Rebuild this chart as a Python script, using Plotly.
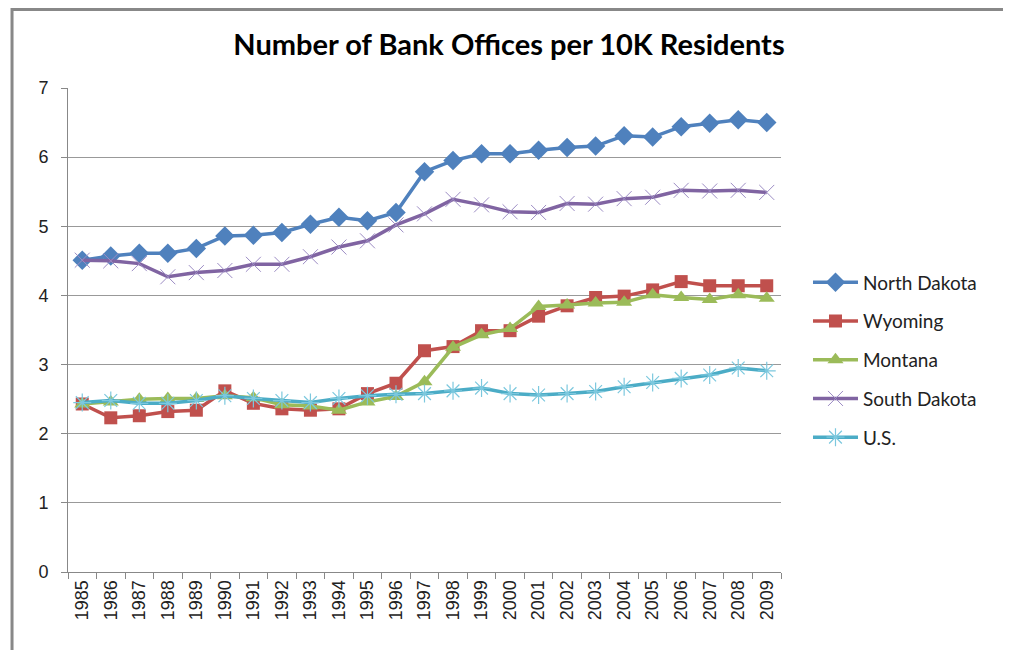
import plotly.graph_objects as go

years = [str(y) for y in range(1985, 2010)]

north_dakota = [4.51, 4.57, 4.61, 4.61, 4.68, 4.86, 4.87, 4.91, 5.03, 5.13, 5.08, 5.20,
                5.79, 5.95, 6.05, 6.05, 6.10, 6.14, 6.16, 6.31, 6.29, 6.44, 6.49, 6.54, 6.50]
wyoming = [2.43, 2.23, 2.26, 2.32, 2.34, 2.62, 2.44, 2.36, 2.34, 2.36, 2.58, 2.73,
           3.20, 3.26, 3.49, 3.49, 3.70, 3.85, 3.97, 3.99, 4.08, 4.20, 4.14, 4.14, 4.14]
montana = [2.43, 2.46, 2.50, 2.51, 2.51, 2.55, 2.52, 2.42, 2.40, 2.34, 2.46, 2.54,
           2.75, 3.25, 3.43, 3.52, 3.84, 3.86, 3.89, 3.90, 4.01, 3.97, 3.94, 4.01, 3.96]
south_dakota = [4.51, 4.50, 4.46, 4.27, 4.33, 4.36, 4.45, 4.45, 4.56, 4.70, 4.79, 5.02,
                5.18, 5.39, 5.31, 5.21, 5.20, 5.33, 5.32, 5.40, 5.42, 5.52, 5.51, 5.52, 5.49]
us = [2.45, 2.48, 2.44, 2.44, 2.48, 2.55, 2.51, 2.48, 2.45, 2.51, 2.55, 2.57,
      2.58, 2.62, 2.66, 2.58, 2.56, 2.58, 2.61, 2.68, 2.74, 2.80, 2.85, 2.95, 2.91]

series = [
    ("North Dakota", north_dakota, "#4F81BD", dict(symbol="diamond", size=15, color="#4F81BD")),
    ("Wyoming", wyoming, "#C0504D", dict(symbol="square", size=13, color="#C0504D")),
    ("Montana", montana, "#9BBB59", dict(symbol="triangle-up", size=14, color="#9BBB59")),
    ("South Dakota", south_dakota, "#8064A2",
     dict(symbol="x-thin", size=15, color="#9C8CC4", line=dict(color="#9C8CC4", width=1))),
    ("U.S.", us, "#4BACC6",
     dict(symbol="asterisk", size=15, color="#7CC8DE", line=dict(color="#7CC8DE", width=1.2))),
]

fig = go.Figure()
for name, vals, col, mk in series:
    fig.add_trace(go.Scatter(x=years, y=vals, name=name, mode="lines+markers",
                             line=dict(color=col, width=3.5), marker=mk,
                             legendgroup=name))

# page body has an 8px margin, so the figure is drawn 8px smaller
fig.update_layout(
    width=1003, height=642,
    margin=dict(l=60, r=230, t=80, b=78, autoexpand=False),
    paper_bgcolor="white", plot_bgcolor="white",
    font=dict(family="Lato, Open Sans, sans-serif", size=16, color="#222"),
    title=dict(text="<b>Number of Bank Offices per 10K Residents</b>",
               xref="container", x=0.4995, xanchor="center",
               yref="container", y=0.942, yanchor="middle",
               font=dict(size=29, color="black")),
    showlegend=True,
    legend=dict(xref="container", x=0.7976, xanchor="left",
                yref="container", y=0.4517, yanchor="middle",
                tracegroupgap=11, font=dict(size=19, color="#222"),
                itemwidth=45),
    shapes=[dict(type="rect", xref="paper", yref="paper",
                 x0=-0.0785, x1=1.3185, y0=-0.2, y1=1.162,
                 line=dict(color="#888", width=3), fillcolor="rgba(0,0,0,0)")],
)
fig.update_xaxes(type="category", range=[-0.5, len(years) - 0.5],
                 tickson="boundaries", ticks="outside", ticklen=6,
                 tickcolor="#888", showline=True, linecolor="#888", linewidth=1,
                 showgrid=False, tickangle=-90, automargin=False,
                 tickfont=dict(size=18, family="Liberation Sans, sans-serif"))
fig.update_yaxes(range=[0, 7], dtick=1, ticks="outside", ticklen=6, tickcolor="#888",
                 showline=True, linecolor="#888", linewidth=1, automargin=False,
                 ticklabelstandoff=9,
                 showgrid=True, gridcolor="#999", gridwidth=1, zeroline=False,
                 tickfont=dict(size=18, family="Liberation Sans, sans-serif"))

fig.write_html("out.html")
